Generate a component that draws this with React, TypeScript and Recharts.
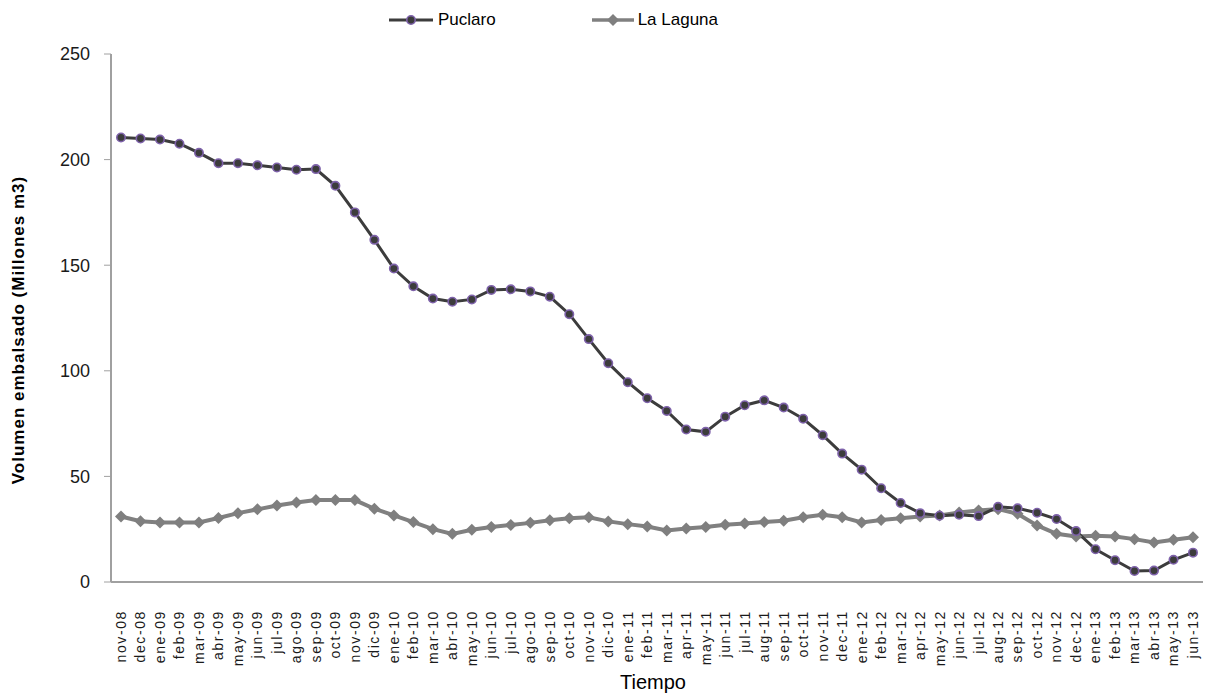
import { LineChart, Line, XAxis, YAxis, Legend } from "recharts";

const months = [
  "nov-08", "dec-08", "ene-09", "feb-09", "mar-09", "abr-09", "may-09", "jun-09",
  "jul-09", "ago-09", "sep-09", "oct-09", "nov-09", "dic-09", "ene-10", "feb-10",
  "mar-10", "abr-10", "may-10", "jun-10", "jul-10", "ago-10", "sep-10", "oct-10",
  "nov-10", "dic-10", "ene-11", "feb-11", "mar-11", "apr-11", "may-11", "jun-11",
  "jul-11", "aug-11", "sep-11", "oct-11", "nov-11", "dec-11", "ene-12", "feb-12",
  "mar-12", "apr-12", "may-12", "jun-12", "jul-12", "aug-12", "sep-12", "oct-12",
  "nov-12", "dec-12", "ene-13", "feb-13", "mar-13", "abr-13", "may-13", "jun-13",
];

const puclaro = [
  210.5, 210, 209.5, 207.5, 203.2, 198.3, 198.3, 197.3, 196.3, 195.2, 195.5, 187.6,
  175, 162, 148.4, 140, 134.2, 132.7, 133.8, 138.3, 138.6, 137.6, 135.1, 126.8,
  115, 103.6, 94.6, 87, 81, 72.2, 71.1, 78.3, 83.7, 86, 82.6, 77.3,
  69.5, 60.8, 53.2, 44.4, 37.4, 32.6, 31.4, 31.8, 31.2, 35.6, 34.9, 32.8,
  29.8, 24.1, 15.5, 10.3, 5.2, 5.4, 10.5, 13.9,
];

const laLaguna = [
  31, 28.8, 28.2, 28.2, 28.2, 30.3, 32.6, 34.4, 36.2, 37.6, 38.8, 38.8,
  38.8, 34.7, 31.5, 28.4, 25, 22.8, 24.7, 26, 27, 28, 29.2, 30.2,
  30.6, 28.7, 27.4, 26.3, 24.4, 25.3, 26, 27.1, 27.7, 28.4, 29, 30.7,
  31.8, 30.7, 28.2, 29.4, 30.2, 31, 31.5, 32.9, 33.9, 34.5, 32.3, 26.8,
  22.8, 21.5, 21.9, 21.5, 20.3, 18.7, 20, 21.2,
];

const yTicks = [0, 50, 100, 150, 200, 250];

const data = months.map((m, i) => ({ mes: m, Puclaro: puclaro[i], "La Laguna": laLaguna[i] }));

const FONT = '"Liberation Sans", Arial, sans-serif';

function MonthTick(props: any) {
  const { x, y, payload } = props;
  return (
    <text
      x={0}
      y={0}
      transform={`translate(${x},${y + 20}) rotate(-90)`}
      textAnchor="end"
      dy="0.35em"
      fontSize={14}
      fill="#1a1a1a"
      fontFamily={FONT}
      letterSpacing={1.6}
    >
      {payload.value}
    </text>
  );
}

function Diamond(props: any) {
  const { cx, cy } = props;
  if (cx == null || cy == null) return null;
  const s = 6;
  return (
    <polygon
      points={`${cx},${cy - s} ${cx + s},${cy} ${cx},${cy + s} ${cx - s},${cy}`}
      fill="#7f7f7f"
    />
  );
}

function LegendBox() {
  return (
    <div
      style={{
        display: "flex",
        alignItems: "center",
        height: 24,
        paddingLeft: 389,
        fontFamily: FONT,
        fontSize: 17,
        color: "#000",
      }}
    >
      <span style={{ display: "flex", alignItems: "center", gap: 5 }}>
        <svg width={44} height={12}>
          <line x1={0} y1={6} x2={44} y2={6} stroke="#3c3c3c" strokeWidth={3} />
          <circle cx={22} cy={6} r={4.2} fill="#3c3c3c" stroke="#7e62aa" strokeWidth={1.6} />
        </svg>
        <span>Puclaro</span>
      </span>
      <span style={{ display: "flex", alignItems: "center", gap: 4, marginLeft: 96 }}>
        <svg width={42} height={14}>
          <line x1={0} y1={7} x2={42} y2={7} stroke="#808080" strokeWidth={3.5} />
          <polygon points="21,1 27,7 21,13 15,7" fill="#7f7f7f" />
        </svg>
        <span>La Laguna</span>
      </span>
    </div>
  );
}

export default function App() {
  return (
    <div style={{ position: "fixed", left: 0, top: 0, background: "#fff" }}>
      <LineChart
        width={1206}
        height={696}
        data={data}
        margin={{ top: 30, right: 3, left: 0, bottom: 4 }}
      >
        <Legend
          verticalAlign="top"
          align="left"
          wrapperStyle={{ top: 8, left: 0, width: 1206 }}
          content={() => <LegendBox />}
        />
        <XAxis
          dataKey="mes"
          interval={0}
          height={110}
          padding={{ left: 10, right: 10 }}
          tickLine={false}
          axisLine={{ stroke: "#a0a0a0", strokeWidth: 2 }}
          tick={<MonthTick />}
          label={{
            value: "Tiempo",
            position: "insideBottom",
            offset: 3,
            fontSize: 20,
            fill: "#000",
            fontFamily: FONT,
            dx: -4,
          }}
        />
        <YAxis
          width={111}
          domain={[0, 250]}
          ticks={yTicks}
          tickSize={7}
          tickMargin={14}
          tickLine={{ stroke: "#a0a0a0" }}
          axisLine={{ stroke: "#a0a0a0", strokeWidth: 2 }}
          tick={{ fontSize: 18, fill: "#1a1a1a", fontFamily: FONT }}
          label={{
            value: "Volumen embalsado (Millones m3)",
            angle: -90,
            position: "insideLeft",
            offset: 18,
            dy: 12,
            style: {
              textAnchor: "middle",
              fontWeight: "bold",
              fontSize: 17,
              letterSpacing: 1,
              fontFamily: FONT,
              fill: "#000",
            },
          }}
        />
        <Line
          dataKey="La Laguna"
          stroke="#808080"
          strokeWidth={4}
          dot={<Diamond />}
          activeDot={false}
          isAnimationActive={false}
        />
        <Line
          dataKey="Puclaro"
          stroke="#3c3c3c"
          strokeWidth={3}
          dot={{ r: 4.2, fill: "#3c3c3c", stroke: "#7e62aa", strokeWidth: 1.6 }}
          activeDot={false}
          isAnimationActive={false}
        />
      </LineChart>
    </div>
  );
}
